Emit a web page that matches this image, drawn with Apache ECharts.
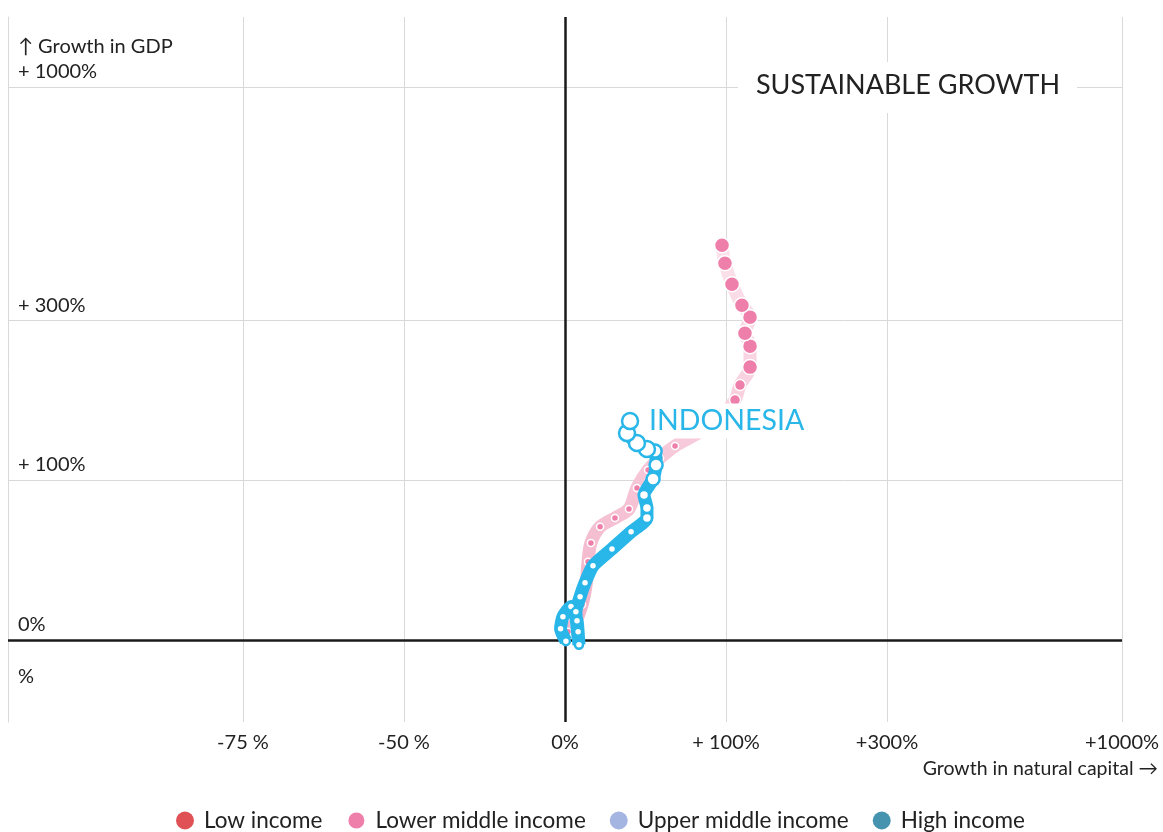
<!DOCTYPE html>
<html>
<head>
<meta charset="utf-8">
<title>Sustainable growth</title>
<script src="https://cdn.jsdelivr.net/npm/echarts@6/dist/echarts.min.js"></script>
<style>
  html, body { margin: 0; padding: 0; background: #fff; }
  #chart { width: 1163px; height: 832px; }
</style>
</head>
<body>
<div id="chart"></div>
<script>
// growth values in %
const incomeGroups = ['Low income', 'Lower middle income', 'Upper middle income', 'High income'];
const groupColors = ['#d7262b', '#ee7eaa', '#8fa3da', '#18789b'];

const xTickValues = [-75, -50, 0, 100, 300, 1000];
const xTickLabels = ['-75 %', '-50 %', '0%', '+ 100%', '+300%', '+1000%'];
const yTickValues = [0, 100, 300, 1000];
const yLabelValues = [-20, 0, 100, 300, 1000];
const yTickLabels = ['%', '0%', '+ 100%', '+ 300%', '+ 1000%'];

const xRange = [-90.91, 1000];
const yRange = [-30, 1390];

// a lower middle income country (pink trail)
const lmicCapital = [1.3, 4.0, 7.6, 9.5, 10.4, 11.8, 16.3, 24.0, 31.7, 36.3, 43.0, 50.5, 60.6, 78.8, 94.9, 107.9, 112.4, 121.8, 121.8, 117.0, 121.8, 114.2, 105.2, 99.1, 96.6];
const lmicGdp = [3.5, 6.7, 16.4, 26.9, 40.2, 52.2, 63.2, 69.6, 76.4, 93.2, 108.9, 120.0, 131.8, 146.2, 161.6, 182.8, 201.8, 226.3, 257.4, 278.1, 305.3, 326.8, 367.6, 412.0, 453.6];

// Indonesia (highlighted)
const idnCapital = [0.4, -1.9, -0.9, 2.6, 5.3, 5.8, 6.2, 4.8, 6.7, 9.0, 12.8, 22.4, 32.9, 42.3, 42.3, 40.5, 46.1, 48.0, 47.4, 42.3, 36.3, 30.6, 32.3];
const idnGdp = [-0.6, 4.9, 10.5, 15.5, 8.6, 3.5, -2.1, 12.9, 20.5, 28.0, 37.8, 48.3, 59.7, 69.6, 77.2, 87.4, 100.9, 113.4, 126.8, 128.7, 134.8, 145.1, 158.2];

// both axes are log2 of the growth factor
const toAxis = v => Math.log2(1 + v / 100);
const pairs = (xs, ys) => xs.map((x, i) => [toAxis(x), toAxis(ys[i])]);
const labelFor = (values, labels) => val => {
  const i = values.findIndex(v => Math.abs(toAxis(v) - val) < 1e-6);
  return i < 0 ? '' : labels[i];
};

const font = 'Lato, "Open Sans", sans-serif';
const ink = '#222';
const cyan = '#29b6e8';
const gridColor = '#d9d9d9';

const chart = echarts.init(document.getElementById('chart'));

chart.setOption({
  animation: false,
  backgroundColor: '#fff',
  textStyle: { fontFamily: font },
  grid: { left: 8, right: 41, top: 17, bottom: 110 },
  xAxis: {
    type: 'value',
    min: toAxis(xRange[0]),
    max: toAxis(xRange[1]),
    position: 'bottom',
    name: 'Growth in natural capital \u2192',
    nameLocation: 'end',
    nameGap: 36,
    nameTextStyle: { color: ink, fontSize: 19.5, align: 'right', verticalAlign: 'top', padding: [37, 0, 0, 0] },
    axisLine: { show: false, onZero: false },
    axisTick: { show: false, customValues: xTickValues.map(toAxis) },
    axisLabel: {
      customValues: xTickValues.map(toAxis),
      formatter: labelFor(xTickValues, xTickLabels),
      color: ink,
      fontSize: 20,
      margin: 11
    },
    splitLine: { show: true, lineStyle: { color: gridColor, width: 1 } }
  },
  yAxis: {
    type: 'value',
    min: toAxis(yRange[0]),
    max: toAxis(yRange[1]),
    position: 'left',
    name: '\u2191 Growth in GDP',
    nameLocation: 'end',
    nameGap: -30,
    nameTextStyle: { color: ink, fontSize: 20, align: 'left', verticalAlign: 'middle', padding: [0, 0, 0, 10] },
    axisLine: { show: true, onZero: false, lineStyle: { color: gridColor, width: 1 } },
    axisTick: { show: false, customValues: yTickValues.map(toAxis) },
    axisLabel: {
      inside: true,
      customValues: yLabelValues.map(toAxis),
      formatter: labelFor(yLabelValues, yTickLabels),
      color: ink,
      fontSize: 20,
      margin: 10,
      align: 'left',
      verticalAlign: 'bottom',
      padding: [0, 0, 5, 0]
    },
    splitLine: { show: true, lineStyle: { color: gridColor, width: 1 } }
  },
  legend: {
    data: incomeGroups,
    icon: 'circle',
    left: 171,
    top: 804,
    itemWidth: 18,
    itemHeight: 18,
    itemGap: 24,
    textStyle: { color: ink, fontSize: 22.5, fontFamily: font, padding: [0, 0, 0, 5] }
  },
  graphic: [
    { type: 'rect', z: 50, shape: { x: 738, y: 62, width: 339, height: 51 }, style: { fill: '#fff' } },
    {
      type: 'text', z: 51, x: 908, y: 85,
      style: {
        text: 'SUSTAINABLE GROWTH', fill: ink, fontSize: 27, fontFamily: font,
        align: 'center', verticalAlign: 'middle', textAlign: 'center', textVerticalAlign: 'middle'
      }
    }
  ],
  series: [
    {
      name: incomeGroups[0],
      type: 'scatter',
      z: 1,
      itemStyle: { color: groupColors[0] },
      data: [],
      markLine: {
        silent: true,
        symbol: 'none',
        label: { show: false },
        lineStyle: { color: '#1a1a1a', width: 2.5, type: 'solid' },
        data: [{ xAxis: toAxis(0) }, { yAxis: toAxis(0) }]
      }
    },
    {
      name: incomeGroups[1],
      type: 'line',
      z: 8,
      smooth: 0.3,
      data: pairs(lmicCapital, lmicGdp),
      symbol: 'circle',
      symbolSize: (v, p) => (p.dataIndex < 15 ? 7 : p.dataIndex < 17 ? 11 : 15),
      itemStyle: { color: groupColors[1], borderColor: '#fff', borderWidth: 1.5 },
      lineStyle: {
        width: 13,
        color: {
          type: 'linear', x: 0, y: 0, x2: 0, y2: 1,
          colorStops: [
            { offset: 0, color: '#fbe3ec' },
            { offset: 0.5, color: '#f7cbdb' },
            { offset: 1, color: '#f2b1c7' }
          ]
        }
      }
    },
    { name: incomeGroups[2], type: 'scatter', itemStyle: { color: groupColors[2] }, data: [] },
    { name: incomeGroups[3], type: 'scatter', itemStyle: { color: groupColors[3] }, data: [] },
    {
      name: 'Indonesia',
      type: 'line',
      z: 10,
      smooth: 0.2,
      data: pairs(idnCapital, idnGdp),
      symbol: 'circle',
      symbolSize: (v, p) => (p.dataIndex < 13 ? 8 : p.dataIndex < 16 ? 10 : p.dataIndex < 19 ? 13 : 16),
      itemStyle: { color: '#fff', borderColor: cyan, borderWidth: 2.5 },
      lineStyle: { color: cyan, width: 13 },
      endLabel: {
        show: true,
        formatter: 'INDONESIA',
        color: cyan,
        fontSize: 28.5,
        fontFamily: font,
        distance: 15,
        backgroundColor: '#fff',
        padding: [3, 4]
      }
    }
  ]
});
</script>
</body>
</html>
